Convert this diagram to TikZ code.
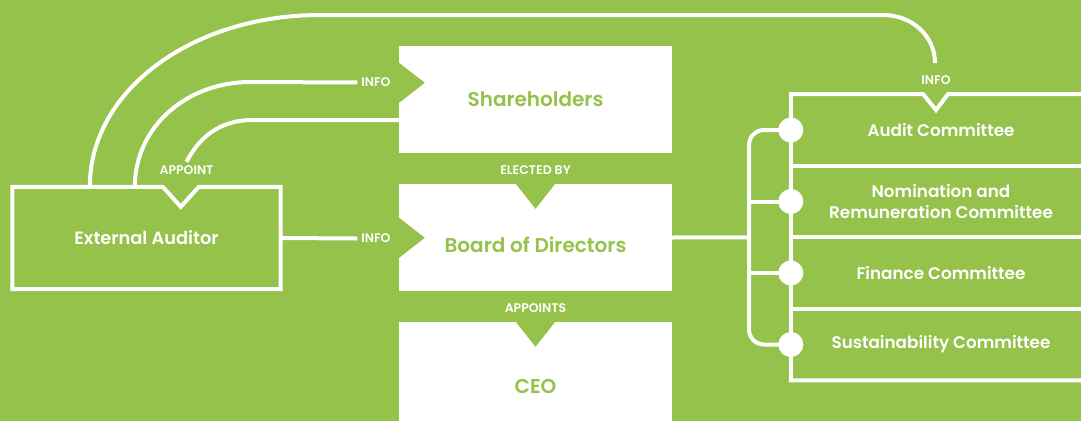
\documentclass[tikz,border=0pt]{standalone}
\usepackage{fontspec}
\setmainfont{Poppins}[UprightFont=* SemiBold, BoldFont=* SemiBold]
\usetikzlibrary{calc, positioning}
\definecolor{leaf}{RGB}{148,194,74}

\begin{document}
\begin{tikzpicture}[x=1pt, y=-1pt,
    wline/.style={draw=white, line width=4pt},
    whitebox/.style={fill=white, text=leaf, minimum width=273pt, inner sep=0pt, font=\fontsize{20}{24}\selectfont},
    combox/.style={minimum width=300pt, minimum height=71.5pt, text=white, align=center, inner sep=0pt, font=\fontsize{16.8}{21}\selectfont},
    tag/.style={text=white, inner sep=4pt, font=\bfseries\fontsize{12.5}{14}\selectfont},
    dot/.style={circle, fill=white, minimum size=25pt, inner sep=0pt}]
    \fill[leaf] (0,0) rectangle (1081,421);
    \useasboundingbox (0,0) rectangle (1081,421);
    \clip (0,0) rectangle (1081,421);

    % middle column
    \node[whitebox, minimum height=107pt] (share) at (535.5,99.5) {Shareholders};
    \node[whitebox, minimum height=107pt] (board) at (535.5,237.5) {};
    \node[text=leaf, inner sep=0pt, font=\fontsize{20}{24}\selectfont] (boardtxt) at (535.5,245) {Board of Directors};
    \node[whitebox, minimum height=129pt] (ceo) at (535.5,386.5) {CEO};

    \fill[leaf] ($(share.north west)+(-1,16)$) -- ++(27,21) -- ++(-27,21) -- cycle;
    \fill[leaf] ($(board.north west)+(-1,33)$) -- ++(27,21) -- ++(-27,21) -- cycle;
    \fill[leaf] ($(board.north)+(-20.5,-1)$) -- ++(20.5,26) -- ++(20.5,-26) -- cycle;
    \fill[leaf] ($(ceo.north)+(-20.5,-1)$) -- ++(20.5,26) -- ++(20.5,-26) -- cycle;

    % external auditor
    \node[minimum width=268pt, minimum height=102pt, text=white, font=\fontsize{17.8}{21}\selectfont] (ext) at (146.5,238) {External Auditor};
    \draw[wline] (ext.north west) -- ++(150.5,0) -- ++(18,20) -- ++(18,-20) -- (ext.north east)
        -- (ext.south east) -- (ext.south west) -- cycle;

    % committees
    \node[combox] (audit) at (941,130) {Audit Committee};
    \node[combox] (nomin) at (941,201.5) {Nomination and\\Remuneration Committee};
    \node[combox] (fin) at (941,273) {Finance Committee};
    \node[combox] (sust) at (941,344.5) {Sustainability Committee};
    \draw[wline] (audit.north east) -- ($(audit.north)+(7,0)$) -- ($(audit.north)+(-5,16)$) -- ($(audit.north)+(-18,0)$)
        -- (audit.north west) -- (sust.south west) -- (sust.south east);
    \draw[wline] (audit.south west) -- (audit.south east);
    \draw[wline] (nomin.south west) -- (nomin.south east);
    \draw[wline] (fin.south west) -- (fin.south east);

    % labels
    \node[tag] (appoint) at (186.5,170.5) {APPOINT};
    \node[tag] (elected) at (535.5,170.5) {ELECTED BY};
    \node[tag] (appoints) at (535.5,308.5) {APPOINTS};
    \node[tag] (info1) at (376,82.5) {INFO};
    \node[tag] (info2) at (376,238.5) {INFO};
    \node[tag] (info3) at (936,80) {INFO};
    \coordinate (auditin) at (935,63);

    % connectors
    \draw[wline] ($(ext.north west)+(77.5,0)$) .. controls +(0,-97) and +(-127,0) .. (320,15) -- (883,15)
        .. controls +(29,0) and +(0,-27) .. (auditin);
    \draw[wline] ($(ext.north west)+(122.5,0)$) .. controls +(0,-60) and +(-63,0) .. (250,82) -- (info1.west);
    \draw[wline] ($(share.west)+(0,20.5)$) -- (253,120) .. controls +(-35,0) and +(12,-23) .. (appoint.north);
    \draw[wline] (ext.east) -- (info2.west);

    % bracket to committees
    \coordinate (brk) at (749,237.25);
    \node[dot] (d1) at (audit.west) {};
    \node[dot] (d2) at (nomin.west) {};
    \node[dot] (d3) at (fin.west) {};
    \node[dot] (d4) at (sust.west) {};
    \draw[wline, rounded corners=15pt] (d1.center) -| (brk) |- (d4.center);
    \draw[wline] (d2.center -| brk) -- (d2.center);
    \draw[wline] (d3.center -| brk) -- (d3.center);
    \draw[wline] (board.east) -- (brk);
\end{tikzpicture}
\end{document}
